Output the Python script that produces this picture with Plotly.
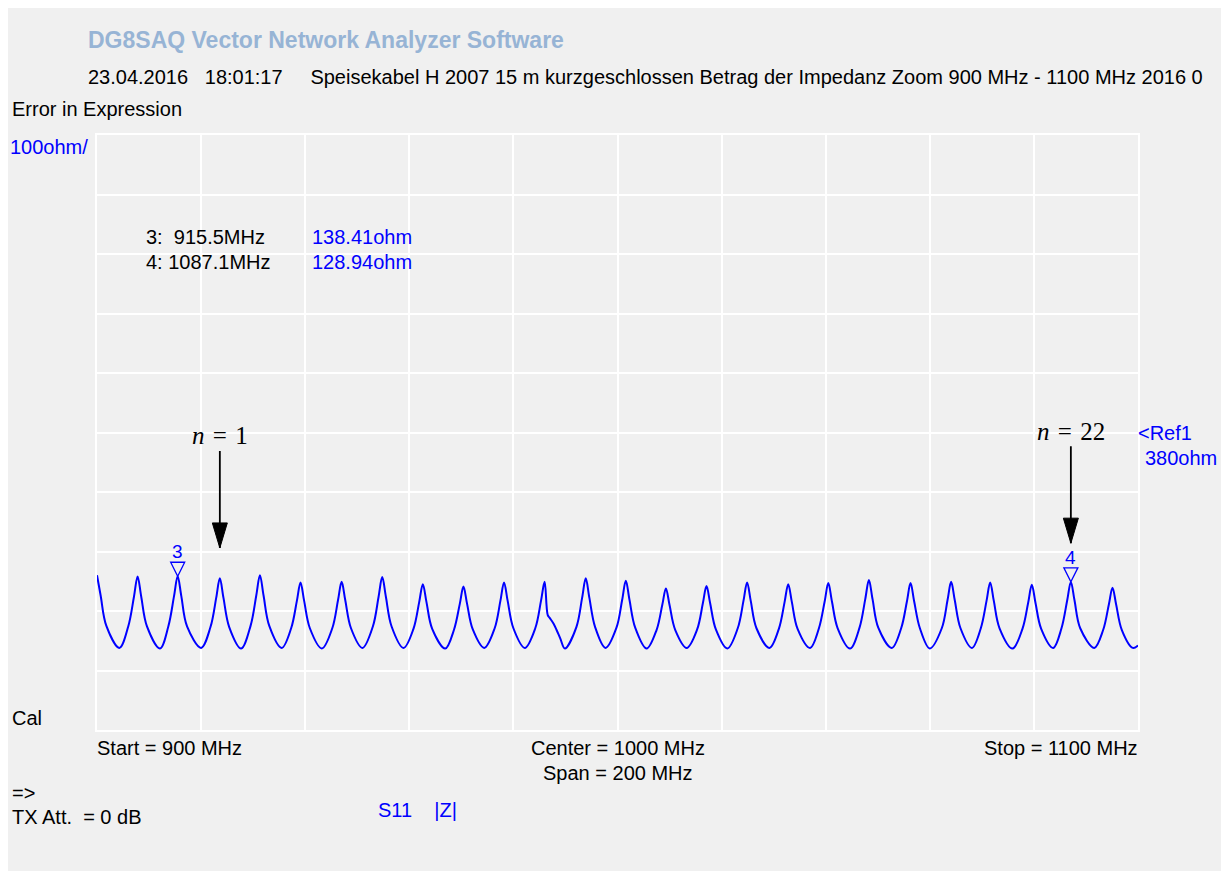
import plotly.graph_objects as go

# ---------------- data ----------------
freq_mhz = [
    900.0, 900.7, 901.8, 904.3,
    906.0, 907.1, 907.8, 908.5, 909.6, 912.1,
    913.7, 914.8, 915.5, 916.2, 917.3, 920.0,
    921.8, 922.9, 923.6, 924.3, 925.4, 927.7,
    929.5, 930.6, 931.3, 932.0, 933.1, 935.5,
    937.3, 938.4, 939.1, 939.8, 940.9, 943.2,
    945.2, 946.3, 947.0, 947.7, 948.8, 951.0,
    953.0, 954.1, 954.8, 955.5, 956.6, 958.9,
    960.8, 961.9, 962.6, 963.3, 964.4, 966.9,
    968.6, 969.7, 970.4, 971.1, 972.2, 974.4,
    976.4, 977.5, 978.2, 978.9, 980.0, 982.2,
    984.2, 985.3, 986.0, 986.6, 987.0, 987.7, 988.3, 989.0, 989.9,
    992.1, 993.2, 993.9, 994.6, 995.7, 997.7,
    999.8, 1000.9, 1001.6, 1002.3, 1003.4, 1005.6,
    1007.5, 1008.6, 1009.3, 1010.0, 1011.1, 1013.3,
    1015.3, 1016.4, 1017.1, 1017.8, 1018.9, 1021.1,
    1023.1, 1024.2, 1024.9, 1025.6, 1026.7, 1029.2,
    1031.0, 1032.1, 1032.8, 1033.5, 1034.6, 1037.0,
    1038.7, 1039.8, 1040.5, 1041.2, 1042.3, 1044.7,
    1046.5, 1047.6, 1048.3, 1049.0, 1050.1, 1052.7,
    1054.5, 1055.6, 1056.3, 1057.0, 1058.1, 1060.0,
    1062.3, 1063.4, 1064.1, 1064.8, 1065.9, 1068.1,
    1069.8, 1070.9, 1071.6, 1072.3, 1073.4, 1075.9,
    1077.8, 1078.9, 1079.6, 1080.3, 1081.4, 1083.7,
    1085.3, 1086.4, 1087.1, 1087.8, 1088.9, 1091.6,
    1093.3, 1094.4, 1095.1, 1095.8, 1096.9, 1099.0, 1100.0,
]
z_ohm = [
    140, 106, 55, 18,
    54, 104, 138, 104, 54, 17,
    54, 105, 138.4, 105, 54, 18,
    53, 102, 135, 102, 53, 17,
    55, 106, 140, 106, 55, 18,
    51, 97, 128, 97, 51, 17,
    51, 98, 129, 98, 51, 18,
    54, 104, 137, 104, 54, 18,
    50, 95, 125, 95, 50, 17,
    49, 92, 121, 92, 49, 18,
    51, 97, 128, 97, 51, 18,
    51, 97, 129, 73, 68, 59, 48, 34, 17,
    53, 102, 135, 102, 53, 18,
    52, 99, 131, 99, 52, 17,
    48, 90, 118, 90, 48, 18,
    49, 93, 122, 93, 49, 17,
    51, 97, 128, 97, 51, 18,
    50, 95, 125, 95, 50, 18,
    51, 96, 127, 96, 51, 17,
    52, 100, 132, 100, 52, 18,
    51, 96, 127, 96, 51, 17,
    51, 98, 129, 98, 51, 18,
    51, 97, 128, 97, 51, 17,
    50, 94, 124, 94, 50, 18,
    51, 98, 128.9, 98, 51, 18,
    48, 91, 119, 91, 48, 18, 22,
]

marker_ids = ["3", "4"]
marker_freq = [915.5, 1087.1]
marker_ohm = [138.41, 128.94]
marker_freq_text = ["3:\u00a0\u00a0915.5MHz", "4:\u00a01087.1MHz"]
marker_ohm_text = ["138.41ohm", "128.94ohm"]

mode_labels = ["1", "22"]
mode_freq = [923.6, 1087.1]
mode_tip_ohm = [186, 194]

x_start, x_stop = 900, 1100
x_div = 20
ref_ohm = 380
y_div = 100
y_min, y_max = ref_ohm - 5 * y_div, ref_ohm + 5 * y_div

# ---------------- layout geometry ----------------
OFF = 8                     # default body margin of the html page
FIG_W, FIG_H = 1213, 863
L, T, PW, PH = 89, 127, 1041, 595
R = FIG_W - L - PW
B = FIG_H - T - PH

BLUE = "#0000ff"
BG = "#f0f0f0"
SANS = "Liberation Sans, Arial, sans-serif"
SERIF = "Liberation Serif, Times New Roman, serif"


def paper(x, y):
    return (x - OFF - L) / PW, 1 - (y - OFF - T) / PH


fig = go.Figure()
fig.add_trace(go.Scatter(
    x=freq_mhz, y=z_ohm, mode="lines",
    line=dict(color=BLUE, width=2, shape="spline", smoothing=1.0),
    hoverinfo="skip", showlegend=False,
))

annotations = []


def text(s, x, y, size=20, color="black", anchor="left", bold=False, family=SANS):
    px_, py_ = paper(x, y)
    annotations.append(dict(
        text=f"<b>{s}</b>" if bold else s, x=px_, y=py_, xref="paper", yref="paper",
        xanchor=anchor, yanchor="middle", showarrow=False,
        font=dict(size=size, color=color, family=family),
    ))


text("DG8SAQ Vector Network Analyzer Software", 86, 40, size=23, color="#97b4d5", bold=True)
text("23.04.2016\u00a0\u00a0 18:01:17\u00a0\u00a0\u00a0\u00a0 Speisekabel H 2007 15 m kurzgeschlossen "
     "Betrag der Impedanz Zoom 900 MHz - 1100 MHz 2016 0", 86, 77)
text("Error in Expression", 10, 109)
text("100ohm/", 8, 147, color=BLUE)
for i in range(2):
    text(marker_freq_text[i], 144, 237 + 25 * i)
    text(marker_ohm_text[i], 310, 237 + 25 * i, color=BLUE)
text("&lt;Ref1", 1136, 433, color=BLUE)
text("380ohm", 1143, 458, color=BLUE)
text("Cal", 10, 718)
text(f"Start = {x_start} MHz", 95, 748)
text(f"Center = {(x_start + x_stop) // 2} MHz", 617.5, 748, anchor="center")
text(f"Span = {x_stop - x_start} MHz", 617.5, 773, anchor="center")
text(f"Stop = {x_stop} MHz", 1140, 748, anchor="right")
text("=&gt;", 10, 793)
text("TX Att.\u00a0 = 0 dB", 10, 817)
text("S11\u00a0\u00a0\u00a0 |Z|", 376, 810, color=BLUE)

shapes = []
# marker flags
for mid, mf, mo in zip(marker_ids, marker_freq, marker_ohm):
    shapes.append(dict(
        type="path", xref="x", yref="y", xsizemode="pixel", ysizemode="pixel",
        xanchor=mf, yanchor=mo, path="M -7 14 L 7 14 L 0 0 Z",
        line=dict(color=BLUE, width=1.3), fillcolor="rgba(0,0,0,0)",
    ))
    annotations.append(dict(
        text=mid, x=mf, y=mo, xref="x", yref="y", showarrow=False,
        xanchor="center", yanchor="bottom", yshift=12,
        font=dict(size=19, color=BLUE, family=SANS),
    ))

# mode number arrows
for lab, mf, mo in zip(mode_labels, mode_freq, mode_tip_ohm):
    annotations.append(dict(
        text=f"<i>n</i>\u2004=\u2004{lab}", x=mf, y=mo, xref="x", yref="y",
        showarrow=True, arrowhead=0, arrowwidth=1.8, arrowcolor="black",
        ax=0, ay=-112, standoff=0,
        font=dict(size=25, color="black", family=SERIF),
    ))
    shapes.append(dict(
        type="path", xref="x", yref="y", xsizemode="pixel", ysizemode="pixel",
        xanchor=mf, yanchor=mo, path="M 0 0 L -7.5 25 L 7.5 25 Z",
        line=dict(color="black", width=1), fillcolor="black",
    ))

axis_common = dict(
    showticklabels=False, ticks="", showgrid=True, gridcolor="white", gridwidth=2,
    zeroline=False, showline=True, linecolor="white", linewidth=2, mirror=True,
    fixedrange=True,
)
fig.update_layout(
    width=FIG_W, height=FIG_H,
    margin=dict(l=L, r=R, t=T, b=B, pad=0),
    paper_bgcolor=BG, plot_bgcolor=BG,
    xaxis=dict(range=[x_start, x_stop], tick0=x_start, dtick=x_div, **axis_common),
    yaxis=dict(range=[y_min, y_max], tick0=y_min, dtick=y_div, **axis_common),
    annotations=annotations, shapes=shapes,
    showlegend=False,
    font=dict(family=SANS, color="black"),
)

fig.write_html("out.html")
